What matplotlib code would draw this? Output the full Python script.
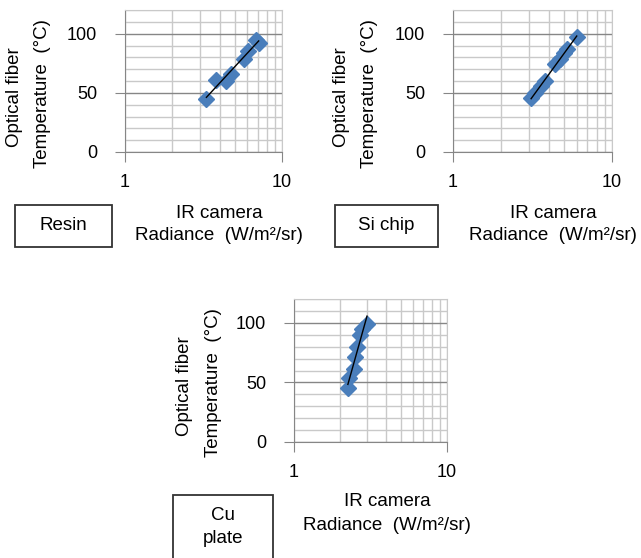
import matplotlib
matplotlib.use("Agg")
import matplotlib.pyplot as plt
from matplotlib.patches import Rectangle
from matplotlib.ticker import MultipleLocator, FixedLocator, NullFormatter
import numpy as np

plt.rcParams['font.family'] = ['Liberation Sans', 'DejaVu Sans']

# data
resin_x = [3.3, 3.8, 4.4, 4.7, 5.7, 6.1, 6.8, 7.1]
resin_y = [45, 61, 60, 66, 79, 85, 95, 92]

sichip_x = [3.1, 3.3, 3.6, 3.8, 4.4, 4.7, 5.0, 5.2, 6.0]
sichip_y = [46, 50, 56, 60, 74, 79, 84, 87, 97]

cu_x = [2.25, 2.3, 2.45, 2.5, 2.6, 2.7, 2.8, 3.0]
cu_y = [45, 54, 61, 71, 80, 90, 95, 99]

materials = ["Resin", "Si chip", "Cu\nplate"]
y_ticks = [0, 50, 100]
x_ticks = [1, 10]

W, H = 641, 558
fig = plt.figure(figsize=(W / 100, H / 100), dpi=100)

def fx(x):
    return x / W

def fy(y):
    return 1 - y / H

BLUE = "#4A7EBB"
LIGHT = "#C9C9C9"
DARK = "#868686"

def panel(left, top, right, bottom, xs, ys):
    ax = fig.add_axes([fx(left), fy(bottom), fx(right) - fx(left), (bottom - top) / H])
    ax.set_xscale("log")
    ax.set_xlim(1, 10)
    ax.set_ylim(0, 120)
    ax.yaxis.set_major_locator(FixedLocator(y_ticks))
    ax.yaxis.set_minor_locator(MultipleLocator(10))
    ax.xaxis.set_major_locator(FixedLocator(x_ticks))
    ax.xaxis.set_minor_locator(FixedLocator(range(2, 10)))
    ax.xaxis.set_minor_formatter(NullFormatter())
    ax.set_xticklabels([str(t) for t in x_ticks])
    ax.set_yticklabels([str(t) for t in y_ticks])
    ax.grid(True, which="minor", color=LIGHT, lw=1)
    ax.grid(True, which="major", axis="x", color=LIGHT, lw=1)
    ax.grid(True, which="major", axis="y", color=DARK, lw=1)
    ax.set_axisbelow(True)
    ax.tick_params(which="minor", length=0)
    ax.tick_params(axis="y", which="major", direction="out", length=7, color=DARK,
                   pad=13, labelsize=13)
    ax.tick_params(axis="x", which="major", direction="out", length=7, color=DARK,
                   pad=9, labelsize=13)
    for s in ["left", "bottom"]:
        ax.spines[s].set_color(DARK)
    for s in ["top", "right"]:
        ax.spines[s].set_color(LIGHT)

    # logarithmic trendline (straight on log axis)
    b, a = np.polyfit(np.log(xs), ys, 1)
    xt = np.array([min(xs), max(xs)])
    ax.plot(xs, ys, linestyle="none", marker="D", ms=8.5, color=BLUE, zorder=3)
    ax.plot(xt, a + b * np.log(xt), color="black", lw=1, zorder=4)
    return ax

def labels(y1x, y1y, y2x, y2y, xlx, xl1y, xl2y):
    fig.text(fx(y1x), fy(y1y), "Optical fiber", rotation=90, ha="center", va="center",
             fontsize=13.5)
    fig.text(fx(y2x), fy(y2y), "Temperature  (\u00b0C)", rotation=90, ha="center",
             va="center", fontsize=13.5)
    fig.text(fx(xlx), fy(xl1y), "IR camera", ha="center", va="center", fontsize=13.5)
    fig.text(fx(xlx), fy(xl2y), "Radiance  (W/m\u00b2/sr)", ha="center", va="center",
             fontsize=13.5)

def box(x0, y0, x1, y1, text, ty):
    fig.add_artist(Rectangle((fx(x0), fy(y1)), fx(x1) - fx(x0), (y1 - y0) / H,
                             transform=fig.transFigure, facecolor="white",
                             edgecolor="#333333", lw=1.3))
    fig.text(fx((x0 + x1) / 2), fy(ty), text,
             ha="center", va="center", fontsize=13.5, linespacing=1.4)

panel(125, 10, 282, 152, resin_x, resin_y)
labels(15, 97, 43, 94, 219, 213, 236)
box(15, 205, 112, 247, materials[0], 226)

panel(453, 10, 612, 152, sichip_x, sichip_y)
labels(342, 97, 370, 94, 553, 213, 236)
box(335, 205, 438, 247, materials[1], 226)

panel(294, 299, 447, 442, cu_x, cu_y)
labels(185, 386, 213, 383, 387, 502, 525)
box(173, 495, 273, 575, materials[2], 527)

fig.savefig("out.png", dpi=100)
